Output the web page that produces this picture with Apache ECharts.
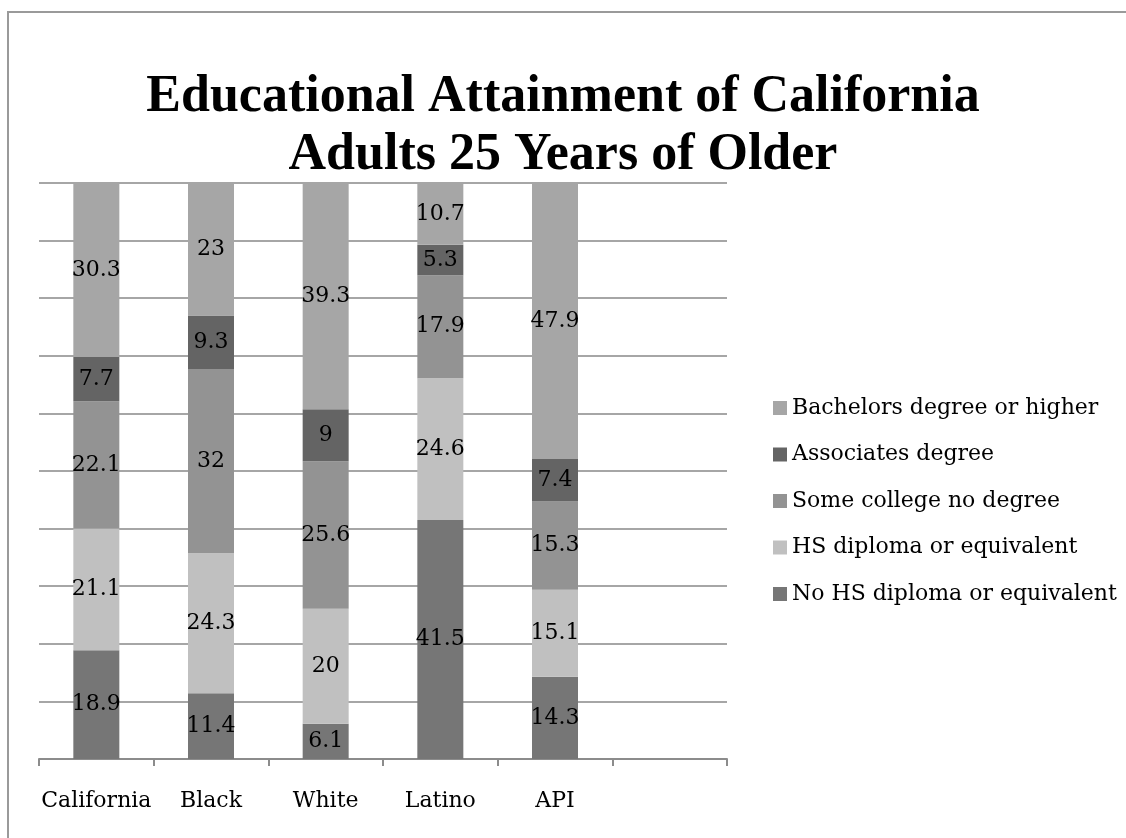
<!DOCTYPE html>
<html>
<head>
<meta charset="utf-8">
<title>Educational Attainment of California Adults</title>
<script src="https://cdn.jsdelivr.net/npm/echarts@6.0.0/dist/echarts.min.js"></script>
<style>
	html, body { margin: 0; padding: 0; background: #fff; }
	#chart { width: 1126px; height: 838px; }
</style>
</head>
<body>
<div id="chart"></div>
<script>
	// groups along the x axis (last slot is empty in the original)
	var categories = ['California', 'Black', 'White', 'Latino', 'API', ''];

	// percent of adults 25+, bottom of the stack first
	var noHsDiploma = [18.9, 11.4, 6.1, 41.5, 14.3, null];
	var hsDiploma = [21.1, 24.3, 20, 24.6, 15.1, null];
	var someCollege = [22.1, 32, 25.6, 17.9, 15.3, null];
	var associates = [7.7, 9.3, 9, 5.3, 7.4, null];
	var bachelors = [30.3, 23, 39.3, 10.7, 47.9, null];

	var seriesNames = [
		'No HS diploma or equivalent',
		'HS diploma or equivalent',
		'Some college no degree',
		'Associates degree',
		'Bachelors degree or higher'
	];
	var seriesData = [noHsDiploma, hsDiploma, someCollege, associates, bachelors];
	var seriesColors = ['#767676', '#c0c0c0', '#939393', '#646464', '#a6a6a6'];

	var bodyFont = 'DejaVu Serif';

	var chart = echarts.init(document.getElementById('chart'));

	var series = seriesNames.map(function (name, i) {
		return {
			name: name,
			type: 'bar',
			stack: 'total',
			barWidth: 46,
			itemStyle: { color: seriesColors[i] },
			label: {
				show: true,
				position: 'inside',
				color: '#000',
				fontFamily: bodyFont,
				fontSize: 22,
				textBorderWidth: 0
			},
			data: seriesData[i]
		};
	});

	chart.setOption({
		backgroundColor: '#fff',
		animation: false,
		title: {
			text: 'Educational Attainment of California\nAdults 25 Years of Older',
			left: 'center',
			top: 64,
			textStyle: {
				fontFamily: 'Liberation Serif',
				fontWeight: 'bold',
				fontSize: 52,
				lineHeight: 58,
				color: '#000'
			}
		},
		legend: {
			orient: 'vertical',
			left: 768,
			top: 390,
			itemWidth: 14,
			itemHeight: 14,
			itemGap: 20.5,
			icon: 'rect',
			selectedMode: false,
			data: seriesNames.slice().reverse(),
			textStyle: {
				fontFamily: bodyFont,
				fontSize: 22,
				lineHeight: 26,
				color: '#000'
			}
		},
		grid: {
			left: 39,
			right: 399,
			top: 183,
			bottom: 79
		},
		xAxis: {
			type: 'category',
			data: categories,
			axisLine: { lineStyle: { color: '#8c8c8c', width: 2 } },
			axisTick: {
				show: true,
				interval: 0,
				length: 7,
				lineStyle: { color: '#8c8c8c', width: 2 }
			},
			axisLabel: {
				interval: 0,
				margin: 31,
				color: '#000',
				fontFamily: bodyFont,
				fontSize: 22
			}
		},
		yAxis: {
			type: 'value',
			min: 0,
			max: 100,
			interval: 10,
			axisLine: { show: false },
			axisTick: { show: false },
			axisLabel: { show: false },
			splitLine: { lineStyle: { color: '#a6a6a6', width: 2 } }
		},
		graphic: [{
			type: 'rect',
			silent: true,
			z: -1,
			shape: { x: 8, y: 12, width: 1300, height: 1000 },
			style: { fill: null, stroke: '#9a9a9a', lineWidth: 2 }
		}],
		series: series
	});
</script>
</body>
</html>
